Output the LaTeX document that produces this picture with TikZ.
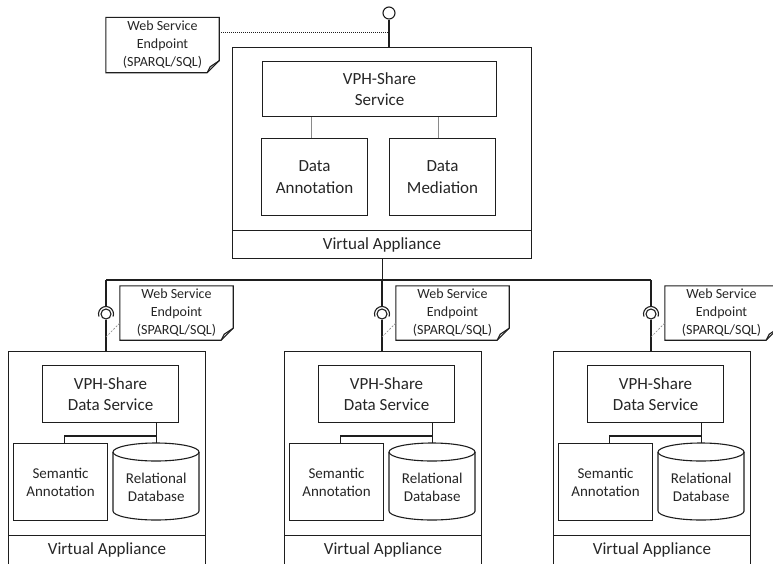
\documentclass[tikz,border=0pt]{standalone}
\usepackage{fontspec}
\setmainfont{Carlito}
\definecolor{linec}{HTML}{1E1E1E}
\definecolor{textc}{HTML}{262626}
\definecolor{lightc}{HTML}{8A8A8A}
\newcommand\bigf{\fontsize{17}{21.5}\selectfont}
\newcommand\smallf{\fontsize{15}{18}\selectfont}
\newcommand\notef{\fontsize{14}{18}\selectfont}
\newcommand\notedraw[1]{%
  \draw[boxline] (#1.north west) -- (#1.north east) -- ([yshift=12pt]#1.south east)
    -- ([xshift=-12pt]#1.south east) -- (#1.south west) -- cycle;
  \draw[boxline] ([yshift=12pt]#1.south east) -- ([xshift=-9pt,yshift=6pt]#1.south east)
    -- ([xshift=-12pt]#1.south east);}
\begin{document}
\begin{tikzpicture}[x=1pt,y=-1pt,
  boxline/.style={draw=linec, line width=1.1pt},
  box/.style={boxline, anchor=north west, inner sep=0pt, text=textc, align=center, font=\bigf},
  txt/.style={inner sep=0pt, text=textc, align=center},
  notebox/.style={txt, minimum width=113pt, minimum height=54pt, font=\notef},
  ball/.style={circle, boxline, fill=white, minimum size=10pt, inner sep=0pt},
  conn/.style={boxline},
  gconn/.style={draw=lightc, line width=1pt},
  dl/.style={draw=lightc, line width=0.6pt, dash pattern=on 2pt off 1.5pt}]
\useasboundingbox (0,0) rectangle (773,563);
\clip (0,0) rectangle (773,563);
\fill[white] (0,0) rectangle (773,563);

% top appliance
\node[box, minimum width=299pt, minimum height=211pt] (va0) at (232,47) {};
\node[box, minimum width=299pt, minimum height=28pt] (val0) at (232,230) {Virtual Appliance};
\node[box, minimum width=234pt, minimum height=55pt] (svc) at (262,61) {VPH-Share\\Service};
\node[box, minimum width=106pt, minimum height=77pt] (da) at (261,138) {Data\\Annotation};
\node[box, minimum width=106pt, minimum height=77pt] (dm) at (389,138) {Data\\Mediation};
\draw[gconn] ([xshift=-3pt]da.north) -- ([xshift=-3pt]da.north |- svc.south);
\draw[gconn] ([xshift=-4pt]dm.north) -- ([xshift=-4pt]dm.north |- svc.south);

% top endpoint
\node[ball, minimum size=12pt] (ball0) at (389,13) {};
\draw[conn] (ball0.south) -- (ball0.south |- va0.north);
\node[notebox, minimum height=55pt] (note0) at (162.5,45) {Web Service\\Endpoint\\(SPARQL/SQL)};
\notedraw{note0}
\coordinate (dot0) at (389,32);
\draw[draw=linec, line width=0.7pt, dash pattern=on 1pt off 1pt] (note0.east |- dot0) -- (dot0);

% bus
\coordinate (busL) at (106,280);
\coordinate (busR) at (651,280);
\draw[conn] (va0.south) -- (va0.south |- busL);
\draw[conn] (busL) -- (busR);

% data appliances
\foreach \cx/\i in {106/1, 382/2, 651/3}{
  \pgfmathsetmacro\L{\cx-98}
  \node[box, minimum width=197pt, minimum height=225pt] (box\i) at (\L,351) {};
  \node[box, minimum width=197pt, minimum height=29pt] (va\i) at (\L,535) {Virtual Appliance};
  \node[box, minimum width=136pt, minimum height=57pt] (ds\i) at ({\L+34},365) {VPH-Share\\Data Service};
  \node[box, minimum width=94pt, minimum height=77pt, font=\smallf] (sem\i) at ({\L+5},443) {Semantic\\Annotation};
  \node[inner sep=0pt, anchor=north west, minimum width=86pt, minimum height=77pt] (db\i) at ({\L+105},443) {};
  \draw[boxline] ({\L+105},452) -- ({\L+105},511) arc[start angle=180, end angle=0, x radius=43, y radius=9] -- ({\L+191},452);
  \draw[boxline] ({\L+148},452) ellipse[x radius=43, y radius=9];
  \node[txt, font=\smallf] (dbt\i) at ([yshift=-6pt]db\i.center) {Relational\\Database};
  \coordinate (jn\i) at ({\L+148},436);
  \draw[conn] (ds\i.south -| db\i.north) -- (db\i.north);
  \draw[conn] (jn\i) -| ([xshift=4pt]sem\i.north);
  % endpoint
  \node[ball] (ball\i) at (\cx,314) {};
  \draw[conn] ([shift={(160:7.5)}]ball\i.center) arc[start angle=160, end angle=380, radius=7.5];
  \draw[conn] (ball\i.center |- busL) -- ([yshift=7.5pt]ball\i.center);
  \draw[conn] (ball\i.south) -- (ball\i.south |- box\i.north);
  \node[notebox] (note\i) at ({\cx+70.5},313) {Web Service\\Endpoint\\(SPARQL/SQL)};
  \notedraw{note\i}
  \draw[dl] ([yshift=-23pt]ball\i.center) -- ([yshift=-10pt]note\i.west);
}
\end{tikzpicture}
\end{document}
